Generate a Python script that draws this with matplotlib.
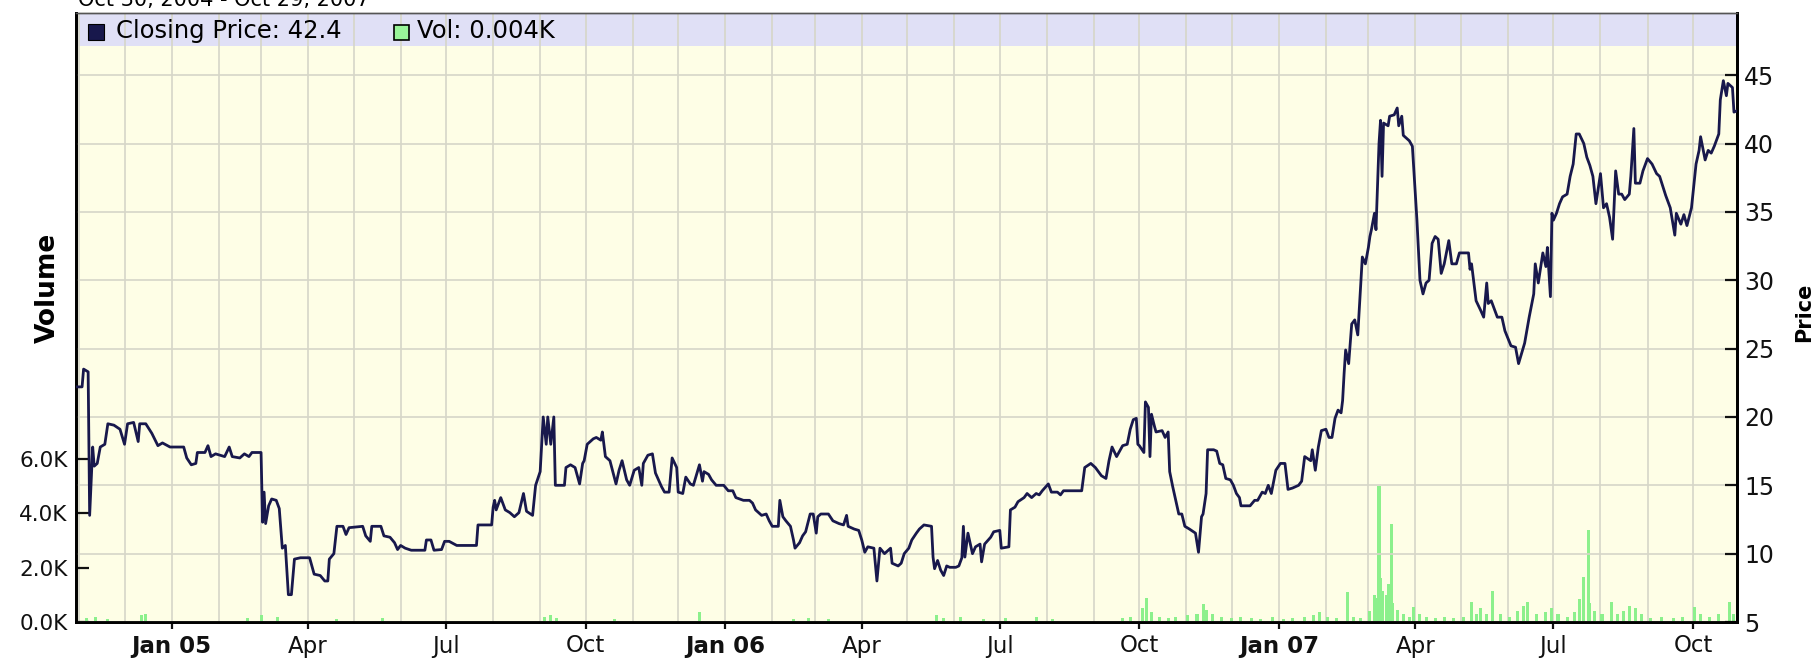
import matplotlib
matplotlib.use("Agg")
import matplotlib.pyplot as plt
import matplotlib.dates as mdates
from matplotlib.patches import Rectangle
import pandas as pd

W, H = 1816, 660

# closing price
price_dates = [
    "2004-10-30", "2004-11-03", "2004-11-04", "2004-11-07", "2004-11-08", "2004-11-10",
    "2004-11-11", "2004-11-13", "2004-11-15", "2004-11-18", "2004-11-20", "2004-11-24",
    "2004-11-28", "2004-12-01", "2004-12-03", "2004-12-07", "2004-12-10", "2004-12-11",
    "2004-12-15", "2004-12-19", "2004-12-23", "2004-12-26", "2004-12-31", "2005-01-09",
    "2005-01-11", "2005-01-14", "2005-01-17", "2005-01-18", "2005-01-23", "2005-01-25",
    "2005-01-27", "2005-01-30", "2005-02-02", "2005-02-05", "2005-02-08", "2005-02-10",
    "2005-02-15", "2005-02-18", "2005-02-21", "2005-02-23", "2005-03-01", "2005-03-02",
    "2005-03-03", "2005-03-04", "2005-03-06", "2005-03-08", "2005-03-11", "2005-03-13",
    "2005-03-15", "2005-03-17", "2005-03-19", "2005-03-21", "2005-03-23", "2005-03-27",
    "2005-04-02", "2005-04-05", "2005-04-09", "2005-04-12", "2005-04-14", "2005-04-15",
    "2005-04-18", "2005-04-20", "2005-04-24", "2005-04-26", "2005-04-28", "2005-05-07",
    "2005-05-09", "2005-05-12", "2005-05-13", "2005-05-19", "2005-05-21", "2005-05-25",
    "2005-05-28", "2005-05-30", "2005-06-01", "2005-06-04", "2005-06-08", "2005-06-17",
    "2005-06-18", "2005-06-21", "2005-06-23", "2005-06-28", "2005-06-30", "2005-07-03",
    "2005-07-08", "2005-07-21", "2005-07-22", "2005-07-31", "2005-08-01", "2005-08-02",
    "2005-08-03", "2005-08-06", "2005-08-09", "2005-08-12", "2005-08-15", "2005-08-18",
    "2005-08-21", "2005-08-23", "2005-08-27", "2005-08-29", "2005-09-01", "2005-09-03",
    "2005-09-05", "2005-09-06", "2005-09-08", "2005-09-10", "2005-09-11", "2005-09-17",
    "2005-09-18", "2005-09-21", "2005-09-24", "2005-09-27", "2005-09-29", "2005-09-30",
    "2005-10-02", "2005-10-06", "2005-10-08", "2005-10-11", "2005-10-12", "2005-10-14",
    "2005-10-17", "2005-10-21", "2005-10-23", "2005-10-25", "2005-10-28", "2005-10-30",
    "2005-11-02", "2005-11-05", "2005-11-07", "2005-11-08", "2005-11-11", "2005-11-14",
    "2005-11-16", "2005-11-20", "2005-11-22", "2005-11-25", "2005-11-27", "2005-11-30",
    "2005-12-01", "2005-12-04", "2005-12-06", "2005-12-09", "2005-12-11", "2005-12-15",
    "2005-12-17", "2005-12-18", "2005-12-21", "2005-12-23", "2005-12-26", "2005-12-31",
    "2006-01-03", "2006-01-06", "2006-01-08", "2006-01-13", "2006-01-17", "2006-01-19",
    "2006-01-21", "2006-01-25", "2006-01-28", "2006-01-30", "2006-02-01", "2006-02-05",
    "2006-02-06", "2006-02-08", "2006-02-10", "2006-02-13", "2006-02-15", "2006-02-16",
    "2006-02-19", "2006-02-21", "2006-02-23", "2006-02-26", "2006-02-28", "2006-03-02",
    "2006-03-03", "2006-03-05", "2006-03-10", "2006-03-13", "2006-03-17", "2006-03-20",
    "2006-03-22", "2006-03-23", "2006-03-27", "2006-03-30", "2006-04-01", "2006-04-03",
    "2006-04-05", "2006-04-09", "2006-04-11", "2006-04-13", "2006-04-16", "2006-04-20",
    "2006-04-21", "2006-04-25", "2006-04-27", "2006-04-29", "2006-05-02", "2006-05-04",
    "2006-05-07", "2006-05-09", "2006-05-12", "2006-05-17", "2006-05-18", "2006-05-19",
    "2006-05-21", "2006-05-23", "2006-05-25", "2006-05-27", "2006-05-29", "2006-06-02",
    "2006-06-04", "2006-06-06", "2006-06-07", "2006-06-08", "2006-06-10", "2006-06-13",
    "2006-06-15", "2006-06-18", "2006-06-19", "2006-06-21", "2006-06-25", "2006-06-27",
    "2006-07-01", "2006-07-02", "2006-07-07", "2006-07-08", "2006-07-11", "2006-07-13",
    "2006-07-17", "2006-07-19", "2006-07-22", "2006-07-25", "2006-07-27", "2006-07-29",
    "2006-08-02", "2006-08-04", "2006-08-08", "2006-08-10", "2006-08-12", "2006-08-24",
    "2006-08-26", "2006-08-30", "2006-09-02", "2006-09-06", "2006-09-09", "2006-09-11",
    "2006-09-13", "2006-09-16", "2006-09-20", "2006-09-23", "2006-09-25", "2006-09-27",
    "2006-09-29", "2006-09-30", "2006-10-01", "2006-10-04", "2006-10-05", "2006-10-07",
    "2006-10-08", "2006-10-09", "2006-10-11", "2006-10-12", "2006-10-16", "2006-10-18",
    "2006-10-20", "2006-10-21", "2006-10-23", "2006-10-27", "2006-10-29", "2006-10-31",
    "2006-11-03", "2006-11-07", "2006-11-09", "2006-11-11", "2006-11-12", "2006-11-14",
    "2006-11-15", "2006-11-19", "2006-11-21", "2006-11-23", "2006-11-25", "2006-11-27",
    "2006-11-30", "2006-12-02", "2006-12-04", "2006-12-06", "2006-12-07", "2006-12-13",
    "2006-12-16", "2006-12-18", "2006-12-21", "2006-12-23", "2006-12-25", "2006-12-27",
    "2006-12-30", "2007-01-02", "2007-01-05", "2007-01-07", "2007-01-10", "2007-01-14",
    "2007-01-16", "2007-01-18", "2007-01-22", "2007-01-23", "2007-01-25", "2007-01-27",
    "2007-01-29", "2007-02-01", "2007-02-03", "2007-02-05", "2007-02-07", "2007-02-09",
    "2007-02-11", "2007-02-12", "2007-02-13", "2007-02-14", "2007-02-16", "2007-02-18",
    "2007-02-20", "2007-02-22", "2007-02-24", "2007-02-25", "2007-02-27", "2007-03-01",
    "2007-03-02", "2007-03-03", "2007-03-05", "2007-03-06", "2007-03-08", "2007-03-09",
    "2007-03-10", "2007-03-11", "2007-03-14", "2007-03-15", "2007-03-18", "2007-03-20",
    "2007-03-21", "2007-03-23", "2007-03-24", "2007-03-28", "2007-03-30", "2007-04-02",
    "2007-04-04", "2007-04-06", "2007-04-08", "2007-04-10", "2007-04-12", "2007-04-14",
    "2007-04-16", "2007-04-18", "2007-04-20", "2007-04-23", "2007-04-25", "2007-04-28",
    "2007-04-30", "2007-05-06", "2007-05-07", "2007-05-08", "2007-05-11", "2007-05-14",
    "2007-05-16", "2007-05-18", "2007-05-19", "2007-05-21", "2007-05-25", "2007-05-28",
    "2007-05-30", "2007-06-03", "2007-06-06", "2007-06-08", "2007-06-12", "2007-06-15",
    "2007-06-18", "2007-06-19", "2007-06-21", "2007-06-24", "2007-06-26", "2007-06-27",
    "2007-06-29", "2007-06-30", "2007-07-01", "2007-07-03", "2007-07-05", "2007-07-07",
    "2007-07-10", "2007-07-12", "2007-07-14", "2007-07-16", "2007-07-18", "2007-07-21",
    "2007-07-23", "2007-07-25", "2007-07-27", "2007-07-29", "2007-08-01", "2007-08-03",
    "2007-08-05", "2007-08-07", "2007-08-09", "2007-08-11", "2007-08-13", "2007-08-15",
    "2007-08-17", "2007-08-20", "2007-08-21", "2007-08-23", "2007-08-24", "2007-08-27",
    "2007-08-29", "2007-09-01", "2007-09-04", "2007-09-07", "2007-09-09", "2007-09-13",
    "2007-09-16", "2007-09-19", "2007-09-20", "2007-09-23", "2007-09-25", "2007-09-27",
    "2007-09-30", "2007-10-03", "2007-10-05", "2007-10-06", "2007-10-09", "2007-10-11",
    "2007-10-13", "2007-10-15", "2007-10-18", "2007-10-19", "2007-10-21", "2007-10-23",
    "2007-10-24", "2007-10-27", "2007-10-28", "2007-10-30",
]
price_values = [
    22.2, 22.2, 23.5, 23.3, 12.8, 17.8,
    16.4, 16.6, 17.8, 18.0, 19.5, 19.4,
    19.1, 18.0, 19.5, 19.6, 18.2, 19.5,
    19.5, 18.8, 17.9, 18.1, 17.8, 17.8,
    17.0, 16.5, 16.6, 17.4, 17.4, 17.9,
    17.1, 17.3, 17.2, 17.1, 17.8, 17.1,
    17.0, 17.3, 17.1, 17.4, 17.4, 12.3,
    14.5, 12.2, 13.5, 14.0, 13.9, 13.3,
    10.4, 10.6, 7.0, 7.0, 9.6, 9.7,
    9.7, 8.5, 8.4, 8.0, 8.0, 9.6,
    10.0, 12.0, 12.0, 11.4, 11.9, 12.0,
    11.3, 10.9, 12.0, 12.0, 11.3, 11.2,
    10.8, 10.3, 10.6, 10.4, 10.25, 10.25,
    11.0, 11.0, 10.25, 10.3, 10.9, 10.9,
    10.6, 10.6, 12.1, 12.1, 13.4, 13.9,
    13.2, 14.1, 13.2, 13.0, 12.7, 13.0,
    14.4, 13.1, 12.8, 15.0, 16.0, 20.0,
    18.0, 20.0, 18.0, 20.0, 15.0, 15.0,
    16.3, 16.5, 16.3, 15.1, 16.6, 16.8,
    18.0, 18.4, 18.5, 18.3, 18.9, 17.1,
    16.8, 15.1, 16.1, 16.8, 15.4, 15.0,
    16.1, 16.3, 15.0, 16.6, 17.2, 17.3,
    15.9, 14.9, 14.5, 14.5, 17.0, 16.3,
    14.5, 14.4, 15.6, 15.1, 15.0, 16.5,
    15.3, 16.0, 15.8, 15.4, 15.0, 15.0,
    14.6, 14.6, 14.1, 13.9, 13.9, 13.7,
    13.2, 12.8, 12.9, 12.4, 12.0, 12.0,
    13.9, 12.7, 12.4, 12.0, 11.0, 10.4,
    10.8, 11.3, 11.6, 12.9, 12.9, 11.5,
    12.7, 12.9, 12.9, 12.4, 12.2, 12.1,
    12.8, 12.0, 11.8, 11.7, 11.0, 10.1,
    10.5, 10.4, 8.0, 10.4, 10.0, 10.4,
    9.3, 9.1, 9.3, 10.0, 10.4, 11.0,
    11.5, 11.8, 12.1, 12.0, 9.75, 8.9,
    9.5, 8.8, 8.4, 9.1, 9.0, 9.0,
    9.1, 9.7, 12.0, 9.75, 11.5, 10.0,
    10.5, 10.7, 9.4, 10.7, 11.2, 11.6,
    11.7, 10.4, 10.5, 13.2, 13.4, 13.8,
    14.1, 14.4, 14.1, 14.4, 14.3, 14.6,
    15.1, 14.5, 14.5, 14.3, 14.6, 14.6,
    16.3, 16.6, 16.3, 15.7, 15.5, 16.8,
    17.8, 17.1, 17.9, 18.0, 19.1, 19.8,
    19.9, 18.0, 17.9, 17.4, 21.1, 20.7,
    17.1, 20.2, 19.3, 18.9, 19.0, 18.5,
    18.9, 16.0, 14.9, 12.9, 12.9, 12.0,
    11.8, 11.5, 10.1, 12.7, 12.9, 14.4,
    17.6, 17.6, 17.5, 16.6, 16.5, 15.5,
    15.4, 15.0, 14.4, 14.1, 13.5, 13.5,
    13.9, 13.9, 14.5, 14.4, 15.0, 14.4,
    16.1, 16.6, 16.6, 14.7, 14.8, 15.0,
    15.3, 17.1, 16.8, 17.6, 16.1, 17.8,
    19.0, 19.1, 18.5, 18.5, 19.9, 20.5,
    20.3, 21.2, 23.2, 24.9, 23.9, 26.8,
    27.1, 26.0, 29.8, 31.7, 31.2, 32.4,
    33.2, 33.7, 34.9, 33.7, 40.0, 41.7,
    37.6, 41.5, 41.3, 42.0, 42.1, 42.6,
    41.3, 42.0, 40.6, 40.2, 39.8, 34.4,
    30.0, 29.0, 29.8, 30.0, 32.7, 33.2,
    33.0, 30.5, 31.2, 32.9, 31.2, 31.2,
    32.0, 32.0, 30.8, 31.2, 28.5, 27.8,
    27.3, 29.8, 28.3, 28.5, 27.3, 27.3,
    26.3, 25.2, 25.1, 23.9, 25.4, 27.3,
    29.0, 31.2, 29.8, 32.0, 31.0, 32.4,
    28.8, 34.9, 34.4, 34.9, 35.6, 36.1,
    36.3, 37.6, 38.5, 40.7, 40.7, 40.0,
    39.0, 38.4, 37.6, 35.6, 37.8, 35.3,
    35.6, 34.6, 33.0, 38.0, 36.3, 36.3,
    35.9, 36.3, 37.6, 41.1, 37.1, 37.1,
    38.0, 38.9, 38.5, 37.8, 37.6, 36.2,
    35.3, 33.3, 34.9, 34.1, 34.8, 34.0,
    35.3, 38.5, 39.5, 40.5, 38.8, 39.5,
    39.3, 39.8, 40.7, 43.2, 44.6, 43.5,
    44.4, 44.1, 42.3, 42.4,
]

# volume in thousands
vol_dates = [
    "2004-11-06", "2004-11-12", "2004-11-20", "2004-12-12", "2004-12-15", "2005-02-20",
    "2005-03-01", "2005-03-12", "2005-04-20", "2005-05-20", "2005-09-04", "2005-09-08",
    "2005-09-12", "2005-10-20", "2005-12-15", "2006-02-15", "2006-02-25", "2006-03-10",
    "2006-05-20", "2006-05-25", "2006-06-05", "2006-06-20", "2006-07-05", "2006-07-25",
    "2006-08-05", "2006-09-20", "2006-09-25", "2006-10-03", "2006-10-06", "2006-10-09",
    "2006-10-14", "2006-10-20", "2006-10-25", "2006-11-02", "2006-11-08", "2006-11-12",
    "2006-11-14", "2006-11-18", "2006-11-24", "2006-12-01", "2006-12-07", "2006-12-14",
    "2006-12-20", "2006-12-28", "2007-01-04", "2007-01-10", "2007-01-18", "2007-01-24",
    "2007-01-28", "2007-02-02", "2007-02-08", "2007-02-15", "2007-02-19", "2007-02-24",
    "2007-03-02", "2007-03-05", "2007-03-07", "2007-03-08", "2007-03-09", "2007-03-10",
    "2007-03-13", "2007-03-14", "2007-03-16", "2007-03-17", "2007-03-20", "2007-03-24",
    "2007-03-28", "2007-03-31", "2007-04-04", "2007-04-08", "2007-04-14", "2007-04-20",
    "2007-04-26", "2007-05-03", "2007-05-08", "2007-05-11", "2007-05-14", "2007-05-18",
    "2007-05-22", "2007-05-27", "2007-06-02", "2007-06-07", "2007-06-11", "2007-06-14",
    "2007-06-20", "2007-06-26", "2007-06-30", "2007-07-04", "2007-07-10", "2007-07-15",
    "2007-07-18", "2007-07-21", "2007-07-24", "2007-07-25", "2007-07-28", "2007-08-02",
    "2007-08-08", "2007-08-12", "2007-08-16", "2007-08-20", "2007-08-24", "2007-08-28",
    "2007-09-03", "2007-09-10", "2007-09-18", "2007-09-24", "2007-10-02", "2007-10-06",
    "2007-10-12", "2007-10-18", "2007-10-25", "2007-10-28",
]
vol_values = [
    0.15, 0.2, 0.12, 0.25, 0.3, 0.15,
    0.25, 0.2, 0.1, 0.15, 0.2, 0.25,
    0.15, 0.1, 0.35, 0.1, 0.15, 0.12,
    0.25, 0.15, 0.2, 0.1, 0.15, 0.2,
    0.1, 0.15, 0.2, 0.5, 0.9, 0.35,
    0.2, 0.15, 0.2, 0.25, 0.3, 0.65,
    0.45, 0.3, 0.2, 0.15, 0.2, 0.15,
    0.12, 0.18, 0.12, 0.15, 0.2, 0.25,
    0.35, 0.2, 0.15, 1.1, 0.2, 0.15,
    0.4, 1.0, 0.9, 5.0, 1.6, 1.15,
    1.0, 1.4, 3.6, 0.7, 0.45, 0.3,
    0.2, 0.55, 0.3, 0.2, 0.15, 0.2,
    0.15, 0.2, 0.75, 0.3, 0.5, 0.3,
    1.15, 0.3, 0.2, 0.4, 0.6, 0.75,
    0.3, 0.35, 0.5, 0.3, 0.2, 0.35,
    0.85, 1.65, 3.4, 0.7, 0.4, 0.3,
    0.75, 0.3, 0.4, 0.6, 0.5, 0.3,
    0.15, 0.2, 0.15, 0.2, 0.55, 0.3,
    0.2, 0.3, 0.75, 0.3,
]

tick_dates = ["2005-01-01", "2005-04-01", "2005-07-01", "2005-10-01",
              "2006-01-01", "2006-04-01", "2006-07-01", "2006-10-01",
              "2007-01-01", "2007-04-01", "2007-07-01", "2007-10-01"]
tick_labels = ["Jan 05", "Apr", "Jul", "Oct", "Jan 06", "Apr", "Jul", "Oct",
               "Jan 07", "Apr", "Jul", "Oct"]
price_ticks = [5, 10, 15, 20, 25, 30, 35, 40, 45]
vol_ticks = [0, 2, 4, 6]
vol_tick_labels = ["0.0K", "2.0K", "4.0K", "6.0K"]

legend_price = "Closing Price: 42.4"
legend_vol = "Vol: 0.004K"
title = "Oct 30, 2004 - Oct 29, 2007"

# plot frame in pixels
left, right, top, bottom = 76, 1737, 13, 622
band_bottom = 46
px_per_price = 13.67
px_per_k = 27.2

bg = "#fefee6"
band = "#e0e0f6"
grid_c = "#d6d6c8"
line_c = "#18184c"
vol_c = "#8cf08c"


def fx(x):
    return x / W


def fy(y):
    return 1 - y / H


fig = plt.figure(figsize=(W / 100, H / 100), dpi=100)
ax = fig.add_axes([fx(left), fy(bottom), (right - left) / W, (bottom - top) / H])
axp = ax.twinx()

ax.set_facecolor(bg)
ax.add_patch(Rectangle((0, (bottom - band_bottom) / (bottom - top)), 1, 1,
                       transform=ax.transAxes, color=band, zorder=0.1, lw=0))

pd_dates = pd.to_datetime(price_dates)
vd = pd.to_datetime(vol_dates)

ax.bar(vd, vol_values, width=2.0, color=vol_c, linewidth=0, zorder=2)
axp.plot(pd_dates, price_values, color=line_c, lw=2.0, zorder=3)

ax.set_xlim(pd.Timestamp("2004-10-30"), pd.Timestamp("2007-10-30"))
ax.set_ylim(0, (bottom - top) / px_per_k)
axp.set_ylim(5, 5 + (bottom - top) / px_per_price)

# grid: every month vertical, every 5 on price
ax.set_axisbelow(True)
ax.xaxis.set_minor_locator(mdates.MonthLocator())
ax.set_xticks(pd.to_datetime(tick_dates))
ax.set_xticklabels(tick_labels)
ax.grid(which="both", axis="x", color=grid_c, lw=1.2)
axp.set_yticks(price_ticks)
axp.grid(axis="y", color=grid_c, lw=1.2, zorder=0)
axp.set_axisbelow(True)

ax.set_yticks(vol_ticks)
ax.set_yticklabels(vol_tick_labels)

for lab in ax.get_xticklabels():
    if lab.get_text().startswith("Jan"):
        lab.set_fontweight("bold")

ax.tick_params(axis="x", which="major", direction="out", length=5, width=1.6,
               labelsize=16.5, pad=4, colors="#111111")
ax.tick_params(axis="x", which="minor", length=0)
ax.tick_params(axis="y", direction="in", length=9, width=1.6,
               labelsize=15.5, pad=6, colors="#111111")
axp.tick_params(axis="y", direction="in", length=9, width=1.6,
                labelsize=17, pad=5, colors="#111111")

for a in (ax, axp):
    for s in ("left", "bottom", "right"):
        a.spines[s].set_linewidth(2)
        a.spines[s].set_color("#000000")
    a.spines["top"].set_linewidth(1)
    a.spines["top"].set_color("#555555")

fig.text(fx(48), fy(288), "Volume", rotation=90, ha="center", va="center",
         fontsize=19, fontweight="bold")
fig.text(fx(1804), fy(312), "Price", rotation=90, ha="center", va="center",
         fontsize=15, fontweight="bold")

# legend row in the band
fig.patches.append(Rectangle((fx(88), fy(40)), 16 / W, 16 / H, transform=fig.transFigure,
                             facecolor=line_c, edgecolor="#000000", lw=0.8))
fig.text(fx(116), fy(31), legend_price, ha="left", va="center", fontsize=17.5)
fig.patches.append(Rectangle((fx(394), fy(40)), 15 / W, 15 / H, transform=fig.transFigure,
                             facecolor="#99f599", edgecolor="#000000", lw=1.2))
fig.text(fx(417), fy(31), legend_vol, ha="left", va="center", fontsize=17.5)

# title clipped at the very top of the image, as in the source picture
fig.text(fx(78), fy(6), title, ha="left", va="baseline", fontsize=15)

fig.savefig("out.png", dpi=100, facecolor="white")
